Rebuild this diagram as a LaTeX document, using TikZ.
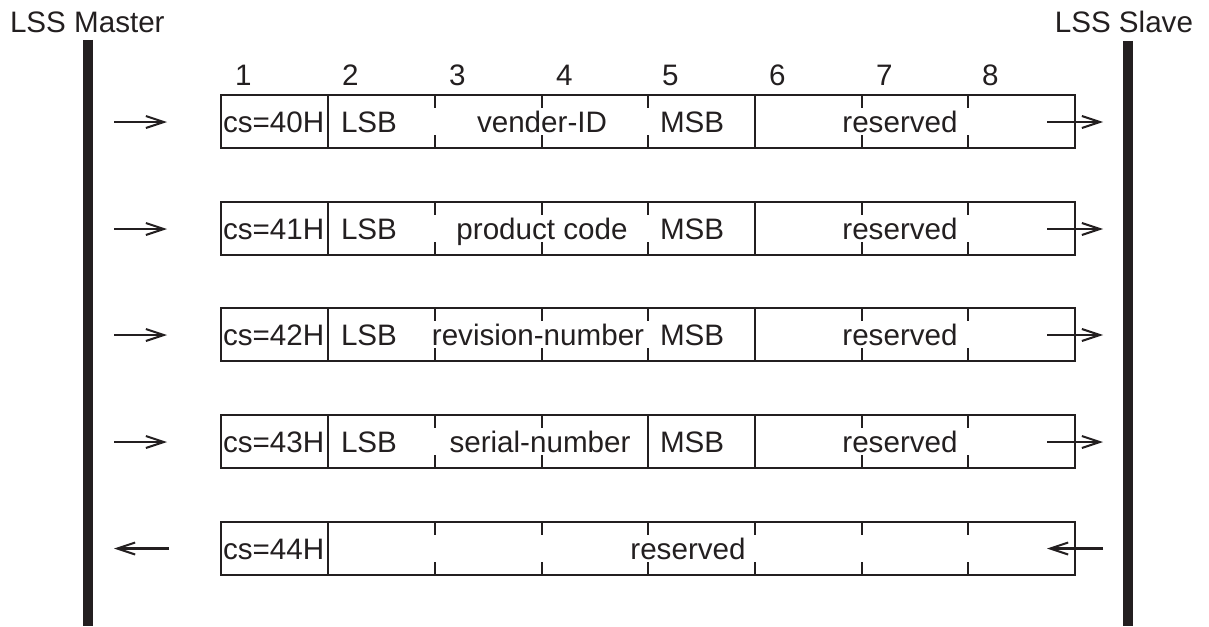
\documentclass[tikz,border=0pt]{standalone}
\usepackage{fontspec}
\setmainfont{Liberation Sans}
\usetikzlibrary{arrows.meta}
\definecolor{ink}{RGB}{35,31,32}
\begin{document}
\begin{tikzpicture}[x=1pt,y=-1pt,
  every node/.style={inner sep=0pt, outer sep=0pt, text=ink, font=\fontsize{29.6}{34}\selectfont},
  frame/.style={draw=ink, line width=2.2pt},
  tick/.style={draw=ink, line width=2.2pt},
  bar/.style={draw=ink, line width=10pt},
  msg/.style={draw=ink, line width=2.2pt, -{Straight Barb[length=18pt,width=12pt,line width=2pt]}},
  lbl/.style={anchor=base west},
  mid/.style={anchor=base}]
\useasboundingbox (0,0) rectangle (1209,626);

% lifelines
\node[anchor=base west] (master) at (10,33) {LSS Master};
\node[anchor=base east] (slave) at (1193,33) {LSS Slave};
\coordinate (mtop) at (88,40);  \coordinate (mbot) at (88,626);
\coordinate (stop) at (1128,41); \coordinate (sbot) at (1128,626);
\draw[bar] (mtop) -- (mbot);
\draw[bar] (stop) -- (sbot);

% byte numbers
\foreach \x/\k in {221/1,328/2,435/3,542/4,648/5,755/6,862/7,968/8}
  \node[lbl] (num\k) at (\x+14,85) {\k};

% request rows 1--4
\foreach \t/\cs/\midtxt/\mx/\n in {95/40H/vender-ID/542/1, 202/41H/product code/542/2, 308/42H/revision-number/538/3, 415/43H/serial-number/540/4}{
  \draw[frame] (221,\t) rectangle (1075,\t+53);
  \draw[frame] (328,\t) -- (328,\t+53);
  \draw[frame] (755,\t) -- (755,\t+53);
  \foreach \x in {435,542,862,968}{
    \draw[tick] (\x,\t) -- ++(0,13);
    \draw[tick] (\x,\t+53) -- ++(0,-13);
  }
  \node[lbl] (cs\n) at (223,\t+37.5) {cs=\cs};
  \node[lbl] (lsb\n) at (341,\t+37.5) {LSB};
  \node[mid] (data\n) at (\mx,\t+37.5) {\midtxt};
  \node[lbl] (msb\n) at (660,\t+37.5) {MSB};
  \node[mid] (res\n) at (900,\t+37.5) {reserved};
  \coordinate (la\n) at (114,\t+27);
  \coordinate (lb\n) at (167,\t+27);
  \coordinate (ra\n) at (1047,\t+27);
  \coordinate (rb\n) at (1103,\t+27);
  \draw[msg] (la\n) -- (lb\n);
  \draw[msg] (ra\n) -- (rb\n);
}
% separator before MSB: ticks in rows 1--3, solid in row 4
\foreach \t in {95,202,308}{
  \draw[tick] (648,\t) -- ++(0,13);
  \draw[tick] (648,\t+53) -- ++(0,-13);
}
\draw[frame] (648,415) -- (648,468);

% response row 5
\draw[frame] (221,522) rectangle (1075,575);
\draw[frame] (328,522) -- (328,575);
\foreach \x in {435,542,648,755,862,968}{
  \draw[tick] (\x,522) -- ++(0,13);
  \draw[tick] (\x,575) -- ++(0,-13);
}
\node[lbl] (cs5) at (223,559.5) {cs=44H};
\node[mid] (res5) at (688,559.5) {reserved};
\coordinate (la5) at (114,548.5);
\coordinate (lb5) at (169,548.5);
\coordinate (ra5) at (1047,548.5);
\coordinate (rb5) at (1103,548.5);
\draw[msg] (lb5) -- (la5);
\draw[msg] (rb5) -- (ra5);
\end{tikzpicture}
\end{document}
